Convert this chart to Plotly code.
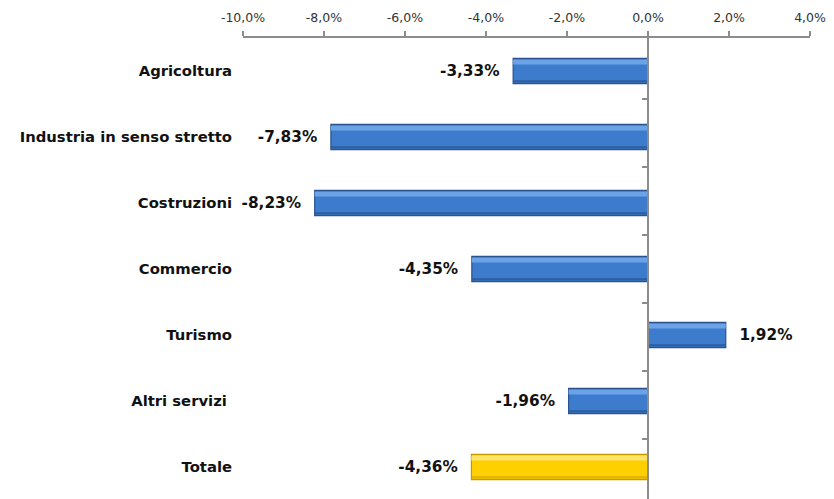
import plotly.graph_objects as go

categories = ["Agricoltura", "Industria in senso stretto", "Costruzioni", "Commercio",
              "Turismo", "Altri servizi\u00a0", "Totale"]
values = [-3.33, -7.83, -8.23, -4.35, 1.92, -1.96, -4.36]
bar_colors = ["#3D7BCC"] * 6 + ["#FFD000"]
top_colors = ["#6CA3E6"] * 6 + ["#FFE566"]
bottom_colors = ["#2A5793"] * 6 + ["#D9A800"]
line_colors = ["#2A5290"] * 6 + ["#C49A00"]
tick_vals = [-10, -8, -6, -4, -2, 0, 2, 4]
tick_text = ["-10,0%", "-8,0%", "-6,0%", "-4,0%", "-2,0%", "0,0%", "2,0%", "4,0%"]

pad = "\u00a0\u00a0"
labels = []
for v in values:
    s = ("%.2f" % v).replace(".", ",") + "%"
    labels.append(s + pad if v < 0 else pad + s)

BW = 0.38
fig = go.Figure()
fig.add_trace(go.Bar(
    x=values, y=categories, orientation="h", width=BW, offset=-BW / 2,
    marker=dict(color=bar_colors, line=dict(color=line_colors, width=1.2)),
    text=labels, textposition="outside", cliponaxis=False,
    textfont=dict(family="DejaVu Sans", size=15.3, color="#111111", weight="bold"),
    showlegend=False, hoverinfo="skip",
))
# bevel highlight (top) and shade (bottom)
fig.add_trace(go.Bar(
    x=values, y=categories, orientation="h", width=0.07, offset=-BW / 2 + 0.02,
    marker=dict(color=top_colors, line=dict(width=0)), showlegend=False, hoverinfo="skip",
))
fig.add_trace(go.Bar(
    x=values, y=categories, orientation="h", width=0.035, offset=BW / 2 - 0.05,
    marker=dict(color=bottom_colors, line=dict(width=0), opacity=0.8),
    showlegend=False, hoverinfo="skip",
))
# invisible trace carrying the zero-position category axis
fig.add_trace(go.Scatter(x=[0] * len(categories), y=categories, yaxis="y2",
                         mode="markers", marker=dict(opacity=0), showlegend=False,
                         hoverinfo="skip"))

xmin, xmax = -10, 4
# page body has an 8px margin: compensate so the plot lands where the reference has it
fig.update_layout(
    width=834, height=499,
    margin=dict(l=235, r=32, t=30, b=7, autoexpand=False),
    paper_bgcolor="white", plot_bgcolor="white",
    barmode="overlay",
    xaxis=dict(side="top", range=[xmin, xmax], tickvals=tick_vals, ticktext=tick_text,
               automargin=False,
               showgrid=False, zeroline=False, showline=True, linecolor="#8C8C8C",
               linewidth=2, ticks="outside", ticklen=5, tickcolor="#8C8C8C", tickwidth=1.5,
               ticklabelstandoff=4,
               tickfont=dict(family="DejaVu Sans", size=12.5, color="#333333")),
    yaxis=dict(type="category", categoryarray=categories, autorange="reversed",
               automargin=False,
               showgrid=False, zeroline=False, showline=False, ticks="",
               ticklabelstandoff=10,
               tickfont=dict(family="DejaVu Sans", size=14.8, color="#111111", weight="bold")),
    yaxis2=dict(type="category", categoryarray=categories, autorange="reversed",
                overlaying="y", anchor="free", side="left", automargin=False,
                position=(0 - xmin) / (xmax - xmin),
                showgrid=False, zeroline=False, showline=True, linecolor="#8C8C8C",
                linewidth=2, ticks="outside", tickson="boundaries", ticklen=5,
                tickcolor="#8C8C8C", tickwidth=1.5, showticklabels=False),
)
fig.write_html("out.html")
